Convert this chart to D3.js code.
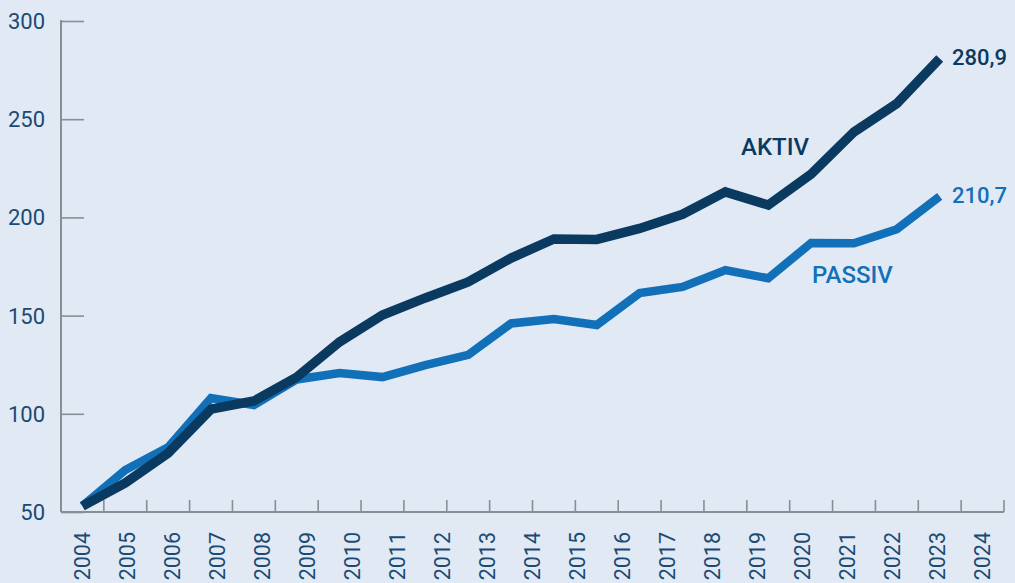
<!DOCTYPE html>
<html>
<head>
<meta charset="utf-8">
<script src="https://cdn.jsdelivr.net/npm/d3@7"></script>
<style>
  html, body { margin: 0; padding: 0; background: #e1e9f5; }
  svg { display: block; font-family: Roboto, "Noto Sans", sans-serif; }
</style>
</head>
<body>
<svg id="chart" width="1015" height="583"></svg>
<script>
const years = [2004,2005,2006,2007,2008,2009,2010,2011,2012,2013,2014,2015,2016,2017,2018,2019,2020,2021,2022,2023,2024];
const aktiv = [53,64.8,80,102.4,106.5,118.7,136.6,150.3,159,167.1,179.3,189,188.8,194.4,201.6,213,206.3,222,243.5,258,280.9];
const passiv = [53,71.4,83,108,104.5,117.5,120.8,118.7,124.8,130,146,148.3,145.2,161.5,164.6,173.2,169,187,186.8,194,210.7];
const yTicks = [50,100,150,200,250,300];
const seriesNames = ["AKTIV","PASSIV"];
const endLabels = ["280,9","210,7"];

const W = 1015, H = 583;
const mLeft = 61, mRight = 1004, mTop = 21, mBottom = 512;
const navy = "#0a3a5f", blue = "#1270b9", axisCol = "#8a8e94", textCol = "#1b4a72";

const svg = d3.select("#chart");
svg.append("rect").attr("width", W).attr("height", H).attr("fill", "#e1e9f5");

// Slots: 22 bands along the axis, data at the first 21 band centres
const slots = d3.range(22);
const band = d3.scaleBand().domain(slots).range([mLeft, mRight]).padding(0);
const x = d3.scalePoint().domain(years).range([band(0) + band.bandwidth()/2, band(20) + band.bandwidth()/2]);
const xLabel = d3.scalePoint().domain(years).range([band(0) + band.bandwidth()/2, band(21) + band.bandwidth()/2]);
const y = d3.scaleLinear().domain([50, 300]).range([mBottom, mTop]);

// y axis
const yAxis = d3.axisRight(y).tickValues(yTicks).tickSize(23).tickFormat("");
const gy = svg.append("g").attr("transform", `translate(${mLeft},0)`).call(yAxis);
gy.select(".domain").remove();
gy.selectAll(".tick line").attr("stroke", axisCol).attr("stroke-width", 1.6);
svg.append("line").attr("x1", mLeft).attr("x2", mLeft).attr("y1", y(300) - 1).attr("y2", mBottom)
  .attr("stroke", axisCol).attr("stroke-width", 2);
svg.append("g").selectAll("text").data(yTicks).join("text")
  .attr("x", 45).attr("y", d => y(d)).attr("dy", "0.36em")
  .attr("text-anchor", "end").attr("fill", textCol)
  .attr("font-size", 22).text(d => d);

// x axis
svg.append("line").attr("x1", mLeft).attr("x2", mRight).attr("y1", mBottom).attr("y2", mBottom)
  .attr("stroke", axisCol).attr("stroke-width", 2);
svg.append("g").selectAll("line").data(slots).join("line")
  .attr("x1", d => band(d) + band.bandwidth()).attr("x2", d => band(d) + band.bandwidth())
  .attr("y1", mBottom).attr("y2", mBottom - 12)
  .attr("stroke", axisCol).attr("stroke-width", 1.6);
svg.append("g").selectAll("text").data(years).join("text")
  .attr("transform", d => `translate(${xLabel(d)},532) rotate(-90)`)
  .attr("dy", "0.36em").attr("text-anchor", "end")
  .attr("fill", textCol).attr("font-size", 21.5).text(d => d);

// lines
const line = d3.line().x((d, i) => x(years[i])).y(d => y(d)).curve(d3.curveLinear);
svg.append("path").datum(passiv).attr("d", line)
  .attr("fill", "none").attr("stroke", blue).attr("stroke-width", 8.5).attr("stroke-linejoin", "miter");
svg.append("path").datum(aktiv).attr("d", line)
  .attr("fill", "none").attr("stroke", navy).attr("stroke-width", 9.5).attr("stroke-linejoin", "miter");

// end labels
const last = years.length - 1;
svg.append("text").attr("x", 952).attr("y", y(aktiv[last])).attr("dy", "0.3em")
  .attr("fill", navy).attr("font-size", 22).attr("font-weight", 500).text(endLabels[0]);
svg.append("text").attr("x", 952).attr("y", y(passiv[last])).attr("dy", "0.3em")
  .attr("fill", blue).attr("font-size", 22).attr("font-weight", 500).text(endLabels[1]);

// series labels
svg.append("text").attr("x", 741).attr("y", 155)
  .attr("fill", navy).attr("font-size", 24).attr("font-weight", 500).text(seriesNames[0]);
svg.append("text").attr("x", 812).attr("y", 283)
  .attr("fill", blue).attr("font-size", 24).attr("font-weight", 500).text(seriesNames[1]);
</script>
</body>
</html>
